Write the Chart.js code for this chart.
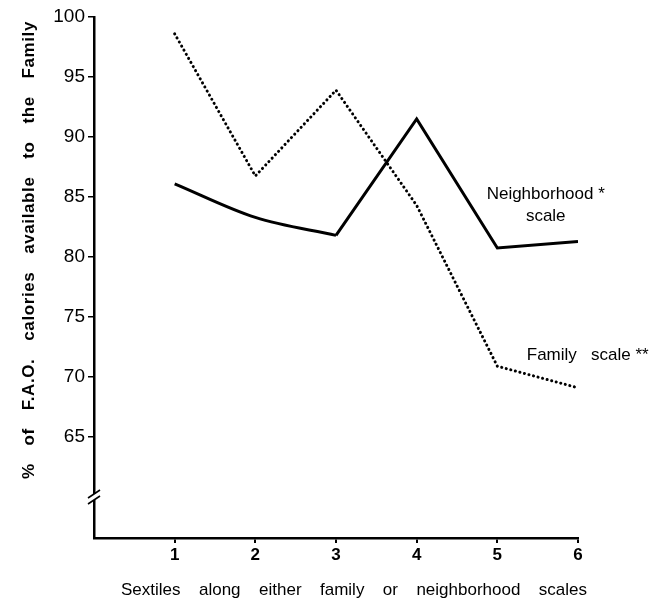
<!DOCTYPE html>
<html>
<head>
<meta charset="utf-8">
<script src="https://cdn.jsdelivr.net/npm/chart.js@4/dist/chart.umd.min.js"></script>
<style>
html,body{margin:0;padding:0;background:#fff;}
#wrap{width:671px;height:602px;position:relative;}
</style>
</head>
<body>
<div id="wrap"><canvas id="c" width="671" height="602"></canvas></div>
<script>
const sextiles = [1, 2, 3, 4, 5, 6];
const neighborhoodScale = [86.1, 83.3, 81.8, 91.5, 80.75, 81.3];
const familyScale = [98.6, 86.75, 93.9, 84.3, 70.9, 69.1];
const yTickValues = [65, 70, 75, 80, 85, 90, 95, 100];
const xTickValues = [1, 2, 3, 4, 5, 6];
const yTitle = "% of F.A.O. calories available to the Family";
const xTitle = "Sextiles along either family or neighborhood scales";
const seriesLabels = [
  {lines: ["Neighborhood *", "scale"], x: 5.6, y: 85.2},
  {lines: ["Family   scale **"], x: 6.12, y: 71.8}
];
const yBreak = 60;
const FONT = "'Liberation Sans', Arial, sans-serif";

const pts = (xs, ys) => xs.map((x, i) => ({x, y: ys[i]}));
const nbAll = pts(sextiles, neighborhoodScale);

// draw text with words spread evenly between start and end
function spreadText(ctx, text, length) {
  const words = text.split(' ');
  const widths = words.map(w => ctx.measureText(w).width);
  const total = widths.reduce((a, b) => a + b, 0);
  const gap = (length - total) / (words.length - 1);
  let pos = 0;
  words.forEach((w, i) => { ctx.fillText(w, pos, 0); pos += widths[i] + gap; });
}

const decor = {
  id: 'decor',
  afterDraw(chart) {
    const {ctx, scales: {x, y}} = chart;
    ctx.save();
    // axis break
    const by = y.getPixelForValue(yBreak);
    const ax = x.getPixelForValue(0);
    ctx.fillStyle = '#fff';
    ctx.fillRect(ax - 3, by - 3, 6, 6);
    ctx.strokeStyle = '#000';
    ctx.lineWidth = 1.6;
    [-3, 3].forEach(d => {
      ctx.beginPath();
      ctx.moveTo(ax - 6, by + d + 4);
      ctx.lineTo(ax + 6, by + d - 4);
      ctx.stroke();
    });
    ctx.fillStyle = '#000';
    // series labels
    ctx.font = '17px ' + FONT;
    ctx.textAlign = 'center';
    ctx.textBaseline = 'middle';
    seriesLabels.forEach(l => {
      const px = x.getPixelForValue(l.x);
      const py = y.getPixelForValue(l.y);
      l.lines.forEach((t, i) => ctx.fillText(t, px, py + i * 22));
    });
    // x title
    ctx.textAlign = 'left';
    ctx.font = '17px ' + FONT;
    ctx.save();
    ctx.translate(121, 590);
    spreadText(ctx, xTitle, 466);
    ctx.restore();
    // y title
    ctx.font = 'bold 17px ' + FONT;
    ctx.save();
    if ('letterSpacing' in ctx) ctx.letterSpacing = '0.6px';
    ctx.translate(29, 479);
    ctx.rotate(-Math.PI / 2);
    spreadText(ctx, yTitle, 458);
    ctx.restore();
    ctx.restore();
  }
};

new Chart(document.getElementById('c'), {
  type: 'line',
  data: {
    datasets: [
      {
        label: 'Neighborhood scale (1-3)',
        data: nbAll.slice(0, 3),
        borderColor: '#000',
        borderWidth: 3,
        tension: 0.4,
        cubicInterpolationMode: 'monotone',
        pointRadius: 0,
        fill: false
      },
      {
        label: 'Neighborhood scale (3-6)',
        data: nbAll.slice(2),
        borderColor: '#000',
        borderWidth: 3,
        tension: 0,
        pointRadius: 0,
        fill: false
      },
      {
        label: 'Family scale',
        data: pts(sextiles, familyScale),
        borderColor: '#000',
        borderWidth: 3,
        borderDash: [0.1, 4.6],
        borderCapStyle: 'round',
        tension: 0,
        pointRadius: 0,
        fill: false
      }
    ]
  },
  options: {
    responsive: false,
    animation: false,
    devicePixelRatio: 1,
    layout: {padding: {top: 17, right: 93, left: 0, bottom: 0}},
    plugins: {legend: {display: false}, tooltip: {enabled: false}},
    scales: {
      x: {
        type: 'linear',
        min: 0,
        max: 6,
        afterBuildTicks(s) { s.ticks = xTickValues.map(v => ({value: v})); },
        afterFit(s) { s.height = 64; },
        grid: {display: true, drawOnChartArea: false, drawTicks: true, tickLength: 5, color: '#000', lineWidth: 2},
        border: {display: true, color: '#000', width: 2.5},
        ticks: {color: '#000', font: {family: FONT, size: 17, weight: 'bold'}, padding: 2, autoSkip: false, maxRotation: 0},
        title: {display: false}
      },
      y: {
        type: 'linear',
        min: 100 - 521 / 12,
        max: 100,
        afterBuildTicks(s) { s.ticks = yTickValues.map(v => ({value: v})); },
        afterFit(s) { s.width = 94; },
        grid: {display: true, drawOnChartArea: false, drawTicks: true, tickLength: 6, color: '#000', lineWidth: 1.5},
        border: {display: true, color: '#000', width: 2.5},
        ticks: {color: '#000', font: {family: FONT, size: 19}, padding: 3},
        title: {display: false}
      }
    }
  },
  plugins: [decor]
});
</script>
</body>
</html>
